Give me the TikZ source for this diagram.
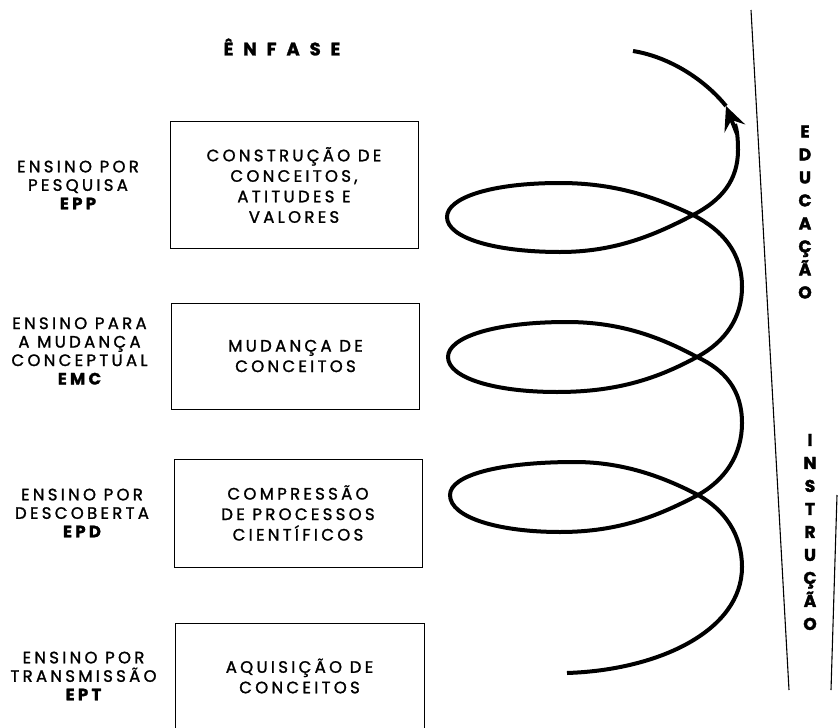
\documentclass[tikz,border=0pt]{standalone}
\usepackage{fontspec}
\setmainfont{Poppins}
\newfontfamily\widefont[LetterSpace=20, FakeBold=1.5]{Poppins}
\newfontfamily\titlefont[LetterSpace=55, FakeBold=1.5]{Poppins}
\newfontfamily\stackfont[FakeBold=2]{Poppins}
\usetikzlibrary{positioning,arrows.meta}

\begin{document}
\begin{tikzpicture}[
	x=1pt, y=-1pt,
	node distance=216pt,
	on grid,
	phase/.style={
		draw,
		line width=1pt,
		minimum width=248pt,
		align=center,
		inner sep=0pt,
		font=\widefont\fontsize{16.5}{20.5}\selectfont
	},
	method/.style={
		align=center,
		font=\widefont\fontsize{16.5}{18.5}\selectfont
	},
	vword/.style={
		align=center,
		font=\stackfont\bfseries\fontsize{17}{23}\selectfont
	},
	spiral/.style={line width=4pt},
	divider/.style={line width=1.1pt}]

  \useasboundingbox (0,0) rectangle (838,728);

  \node[font=\titlefont\bfseries\fontsize{18}{20}\selectfont] (title) at (282,47) {ÊNFASE};

  \node[phase, minimum height=127pt] (b_1) at (294,185) {CONSTRUÇÃO DE\\CONCEITOS,\\ATITUDES E\\VALORES};
  \node[phase, minimum height=106pt] (b_2) at (295.5,356) {MUDANÇA DE\\CONCEITOS};
  \node[phase, minimum height=108pt] (b_3) at (298,513) {COMPRESSÃO\\DE PROCESSOS\\CIENTÍFICOS};
  \node[phase, draw=none, minimum height=104pt] (b_4) at (299.5,676) {AQUISIÇÃO DE\\CONCEITOS};
  \draw[line width=1pt] (b_4.south west) -- (b_4.north west) -- (b_4.north east) -- (b_4.south east);

  \node[method, left=of b_1] (m_1) {ENSINO POR\\PESQUISA\\{\bfseries EPP}};
  \node[method, left=of b_2, yshift=5pt] (m_2) {ENSINO PARA\\A MUDANÇA\\CONCEPTUAL\\{\bfseries EMC}};
  \node[method, left=of b_3] (m_3) {ENSINO POR\\DESCOBERTA\\{\bfseries EPD}};
  \node[method, left=of b_4] (m_4) {ENSINO POR\\TRANSMISSÃO\\{\bfseries EPT}};

  \draw[spiral] (567,673) .. controls (660,670) and (742,630) .. (742,567)
    .. controls (742,535) and (725,510) .. (698,495)
    .. controls (660,475) and (620,462) .. (575,462)
    .. controls (500,462) and (450,475) .. (450,495)
    .. controls (450,518) and (500,532) .. (560,532)
    .. controls (620,532) and (660,515) .. (698,495)
    .. controls (725,480) and (742,455) .. (742,423)
    .. controls (742,390) and (725,370) .. (697,357)
    .. controls (660,337) and (620,322) .. (567,322)
    .. controls (495,322) and (448,337) .. (448,357)
    .. controls (448,378) and (495,392) .. (557,392)
    .. controls (620,392) and (660,377) .. (697,357)
    .. controls (725,342) and (742,318) .. (742,287)
    .. controls (742,252) and (722,230) .. (693,215)
    .. controls (655,197) and (615,183) .. (560,183)
    .. controls (490,183) and (447,198) .. (447,217)
    .. controls (447,238) and (495,252) .. (560,252)
    .. controls (615,252) and (655,235) .. (693,215)
    .. controls (722,200) and (738,180) .. (738,150)
    .. controls (738,138) and (737,130) .. (735,124);
  \draw[spiral, -{Stealth[length=24pt, width=22pt, inset=9pt]}] (737,134) -- (726,106);
  \draw[spiral] (726,106) .. controls (705,80) and (670,57) .. (633,51);

  \draw[divider] (751,10) -- (789,690);
  \draw[divider] (837,495) -- (831,690);

  \node[vword] (educ) at (805,212) {E\\D\\U\\C\\A\\Ç\\Ã\\O};
  \node[vword] (instr) at (810,532) {I\\N\\S\\T\\R\\U\\Ç\\Ã\\O};
\end{tikzpicture}
\end{document}
